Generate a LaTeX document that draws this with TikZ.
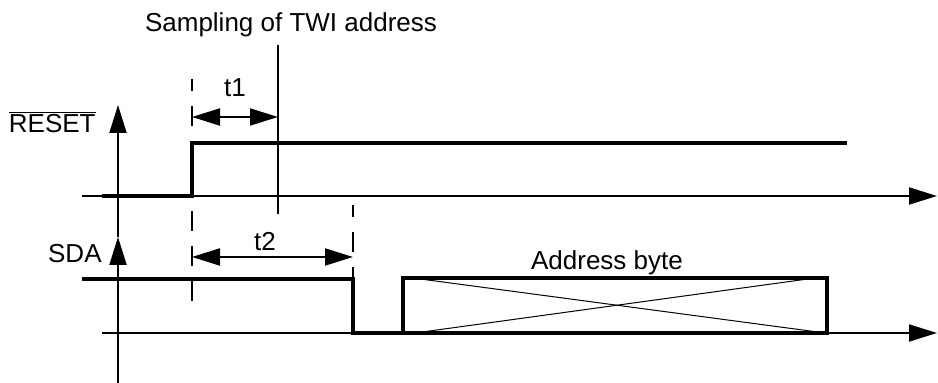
\documentclass[tikz,border=0pt]{standalone}
\usepackage{fontspec}
\setmainfont{Liberation Sans}
\usetikzlibrary{arrows.meta}
\begin{document}
\begin{tikzpicture}[x=0.5pt,y=-0.5pt,
    axis/.style={line width=1pt,-{Triangle[length=14pt,width=8.5pt]}},
    sig/.style={line width=1.8pt},
    guide/.style={line width=1pt,dash pattern=on 10pt off 7.5pt,dash phase=4pt},
    span/.style={line width=1pt,{Triangle[length=14pt,width=8.5pt]}-{Triangle[length=14pt,width=8.5pt]}},
    lbl/.style={font=\fontsize{13}{15}\selectfont,inner sep=0pt}]
  \useasboundingbox (0,0) rectangle (938,383);

  % axes
  \coordinate (Ybot) at (118,383);
  \coordinate (Ysda) at (118,237);
  \coordinate (Yrst) at (118,105);
  \coordinate (Rl) at (82,196);
  \coordinate (Rr) at (937,196);
  \coordinate (Sl) at (102,333);
  \coordinate (Sr) at (937,333);

  % RESET signal
  \coordinate (R0) at (102,196);
  \coordinate (R1) at (192,196);
  \coordinate (R2) at (192,143);
  \coordinate (R3) at (847,143);

  % SDA signal
  \coordinate (S0) at (82,279);
  \coordinate (S1) at (353,279);
  \coordinate (S2) at (353,333);
  \coordinate (S3) at (403,333);
  \coordinate (B1) at (403,278);
  \coordinate (B2) at (827,333);

  % timing marks
  \coordinate (G1a) at (192,79);
  \coordinate (G1b) at (192,305);
  \coordinate (G2a) at (353,205);
  \coordinate (G2b) at (353,333);
  \coordinate (Ma) at (278,45);
  \coordinate (Mb) at (278,214);
  \coordinate (T1a) at (192,117);
  \coordinate (T1b) at (278,117);
  \coordinate (T2a) at (192,257);
  \coordinate (T2b) at (353,257);

  \node[lbl,anchor=base] (samp) at (291,32) {Sampling of TWI address};
  \node[lbl,anchor=base] (t1) at (235,97) {t1};
  \node[lbl,anchor=base] (t2) at (265,251) {t2};
  \node[lbl,anchor=base east] (rst) at (96,133) {$\overline{\mbox{RESET}}$};
  \node[lbl,anchor=base east] (sda) at (102,263) {SDA};
  \node[lbl,anchor=base] (addr) at (607,270) {Address byte};

  \draw[axis] (Ybot) to (Ysda); \draw[axis] (Ysda) to (Yrst);
  \draw[axis] (Rl) to (Rr); \draw[axis] (Sl) to (Sr);

  \draw[sig] (R0) -- (R1) -- (R2) -- (R3);
  \draw[sig] (S0) -- (S1) -- (S2) -- (S3);
  \draw[sig] (B1) rectangle (B2);
  \draw[line width=0.5pt] ([xshift=5pt]B1) to ([xshift=-1pt]B2);
  \draw[line width=0.5pt] ([xshift=6pt]B1 |- B2) to ([xshift=-6pt]B2 |- B1);

  \draw[guide] (G1a) to (G1b); \draw[guide] (G2a) to (G2b);
  \draw[line width=1pt] (Ma) to (Mb);
  \draw[span] (T1a) to (T1b); \draw[span] (T2a) to (T2b);
\end{tikzpicture}
\end{document}
